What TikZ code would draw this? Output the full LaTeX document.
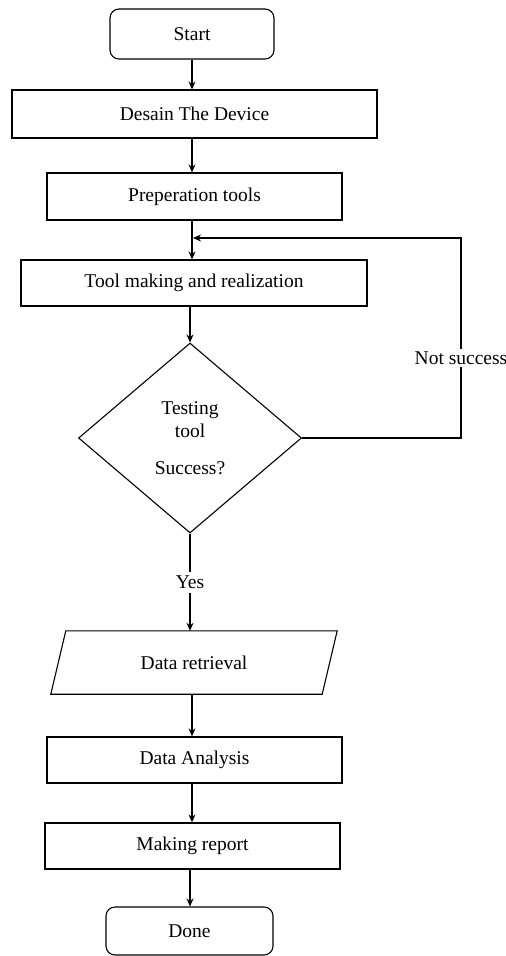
\documentclass[tikz,border=0pt]{standalone}
\usepackage{fontspec}
\setmainfont{Liberation Serif}
\usetikzlibrary{shapes.geometric,arrows.meta}
\begin{document}
\begin{tikzpicture}[x=1pt,y=-1pt,
  font=\fontsize{19.5}{23}\selectfont,
  box/.style={draw,line width=1.3pt,inner sep=0pt,minimum width=#1},
  term/.style={draw,line width=1.1pt,rounded corners=9pt,inner sep=0pt},
  arr/.style={line width=1.1pt,-{Stealth[length=8pt,width=7pt]}},
  lnk/.style={line width=1.1pt}]
\useasboundingbox (0,0) rectangle (506,956);
\node[term,minimum width=164pt,minimum height=50pt] (start) at (192,34) {Start};
\node[box=365pt,minimum height=48pt] (desain) at (194.5,114) {Desain The Device};
\node[box=295pt,minimum height=47pt] (prep) at (194.5,196.5) {Preperation tools};
\node[box=346pt,minimum height=46pt] (tool) at (194,283) {Tool making and realization};
\node[draw,shape=diamond,line width=1.1pt,inner sep=0pt,minimum width=223pt,minimum height=190pt,align=center] (dia) at (190,438) {Testing\\tool\\[14pt]Success?};
\node[inner sep=0pt,minimum width=286pt,minimum height=63pt] (dr) at (194,662.5) {Data retrieval};
\draw[line width=1.1pt] ([xshift=15pt]dr.north west) -- (dr.north east) -- ([xshift=-15pt]dr.south east) -- (dr.south west) -- cycle;
\node[box=295pt,minimum height=46pt] (da) at (194.5,760) {Data Analysis};
\node[box=295pt,minimum height=46pt] (mr) at (192.5,846) {Making report};
\node[term,minimum width=167pt,minimum height=48pt] (done) at (189.5,931) {Done};
\coordinate (cr) at (461,438);
\coordinate (ct) at (461,238);
\coordinate (cj) at (193,238);
\draw[arr] (start.south -| 192,0) -- (192,0 |- desain.north);
\draw[arr] (192,0 |- desain.south) -- (192,0 |- prep.north);
\draw[arr] (192,0 |- prep.south) -- (192,0 |- tool.north);
\draw[arr] (dia.north |- tool.south) -- (dia.north);
\draw[arr] (dia.east) -- (cr) -- node[fill=white,inner sep=3pt,pos=0.4]{Not success} (ct) -- (cj);
\draw[arr] (dia.south) -- node[fill=white,inner sep=4pt]{Yes} (dia.south |- dr.north);
\draw[arr] (192,0 |- dr.south) -- (192,0 |- da.north);
\draw[arr] (192,0 |- da.south) -- (192,0 |- mr.north);
\draw[arr] (190,0 |- mr.south) -- (190,0 |- done.north);
\end{tikzpicture}
\end{document}
